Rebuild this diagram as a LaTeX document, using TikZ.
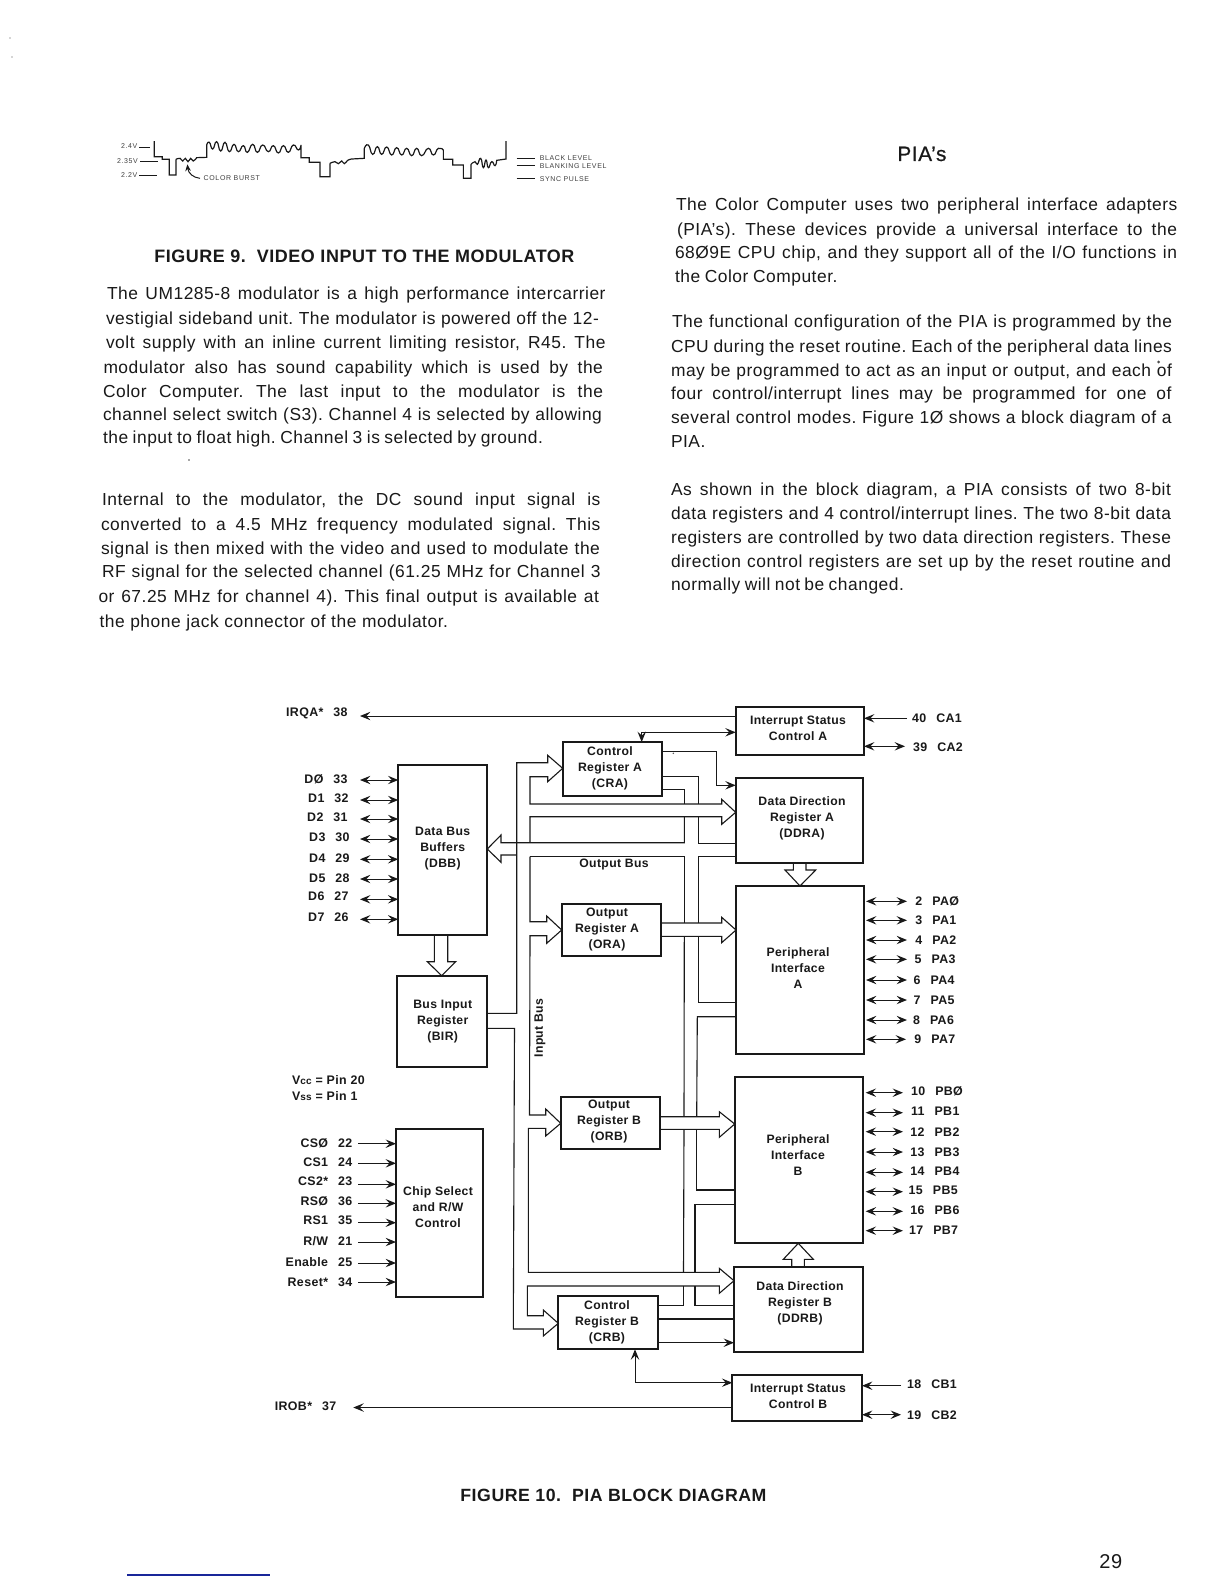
\documentclass[tikz,border=0pt]{standalone}
\usepackage{fontspec}
\usepackage{graphicx}
\setmainfont[LetterSpace=3]{Liberation Sans}
\usetikzlibrary{arrows.meta,calc}
\definecolor{ink}{gray}{0.1}
\definecolor{rulblue}{rgb}{0.1,0.15,0.6}
\newcommand\pgap{\hspace{5pt}}
\newcommand\slz{Ø}
\newcommand\rw{R/W}
\newcounter{tlc}
\frenchspacing
% one justified text line: x0, x1, baseline y, text
\newcommand\txtline[4]{%
  \stepcounter{tlc}%
  \pgfmathsetmacro\tw{(#2-#1)*0.5}%
  \node[bodyline] (line\thetlc) at (#1,#3) {\makebox[\tw pt][s]{#4}};}
% a block: name, l,t,r,b, text centre x,y, text
\newcommand\blk[8]{%
  \pgfmathsetmacro\bw{(#4-#2)*0.5}%
  \pgfmathsetmacro\bh{(#5-#3)*0.5}%
  \node[blockbox,minimum width=\bw pt,minimum height=\bh pt] (#1) at ({(#2+#4)/2},{(#3+#5)/2}) {};
  \node[blocktext] (#1t) at (#6,#7) {#8};}
\tikzset{
  >={Stealth[length=5.2pt,width=4.2pt,inset=2pt]},
  bodyline/.style={anchor=base west,inner sep=0pt,outer sep=0pt,text=ink,font=\fontsize{8.7}{10}\selectfont},
  blockbox/.style={draw=ink,line width=0.95pt,inner sep=0pt,outer sep=0pt},
  blocktext/.style={align=center,inner sep=0pt,text=ink,font=\fontsize{6.1}{8}\selectfont\bfseries},
  pinlbl/.style={inner sep=0pt,text=ink,font=\fontsize{6.2}{8}\selectfont\bfseries},
  bus/.style={draw=ink,line width=0.55pt,line join=miter},
  sig/.style={draw=ink,line width=0.5pt},
  wavelbl/.style={anchor=west,inner sep=0pt,text=black!75,font=\fontsize{3.5}{4}\selectfont\addfontfeature{LetterSpace=9}},
  headlbl/.style={anchor=base west,inner sep=0pt,text=ink},
  speck/.style={fill=black!70,draw=none},
}
\begin{document}
\begin{tikzpicture}[x=0.5pt,y=-0.5pt]
\useasboundingbox (0,0) rectangle (1224,1584);
\fill[white] (0,0) rectangle (1224,1584);

% ---------- waveform
\begin{scope}[shift={(100,125)},x=0.16667pt,y=-0.16667pt]
\draw[ink,line width=0.6pt] (163,48) -- (163,95) -- (187,95) -- (187,103) -- (208,103) -- (208,150) -- (228,150) -- (228,103)
  plot[smooth,tension=.9] coordinates {(228,103) (240,100) (248,108) (256,100) (264,110) (272,100) (280,108) (290,98)}
  -- (320,97) -- (320,60)
  plot[smooth,tension=1] coordinates {(320,60) (328,52) (338,72) (350,50) (362,78) (375,52) (388,80) (402,58) (415,80) (430,62) (442,82) (458,58) (472,82) (488,60) (505,80) (520,62) (535,84) (550,62) (565,82) (580,60) (595,75) (603,60)}
  -- (603,98) -- (628,98) -- (628,112) -- (660,112) -- (660,155) -- (690,155) -- (690,115)
  plot[smooth,tension=.9] coordinates {(690,115) (705,110) (715,116) (725,108) (733,116) (743,106) (755,102)}
  -- (793,100) -- (793,70)
  plot[smooth,tension=1] coordinates {(793,70) (805,60) (818,88) (832,65) (845,88) (860,66) (875,90) (890,68) (905,90) (920,70) (935,92) (950,70) (965,92) (985,70) (1000,90) (1015,70) (1030,75)}
  -- (1030,103) -- (1058,103) -- (1058,120) -- (1090,120) -- (1090,160) -- (1113,160) -- (1113,118)
  plot[smooth,tension=1] coordinates {(1113,118) (1125,110) (1132,118) (1142,100) (1150,128) (1158,105) (1165,128) (1175,110) (1185,122) (1190,106)}
  -- (1218,102) -- (1218,48);
\draw[ink,line width=0.5pt] (118,66) -- (150,66);
\draw[ink,line width=0.5pt] (120,108) -- (175,108);
\draw[ink,line width=0.5pt] (118,150) -- (172,150);
\draw[ink,line width=0.5pt] (1250,100) -- (1305,100);
\draw[ink,line width=0.5pt] (1250,121) -- (1305,121);
\draw[ink,line width=0.5pt] (1250,160) -- (1305,160);
\node[wavelbl] (v24) at (62,64) {2.4V};
\node[wavelbl] (v235) at (50,107) {2.35V};
\node[wavelbl] (v22) at (62,150) {2.2V};
\node[wavelbl] (cburst) at (310,160) {COLOR BURST};
\node[wavelbl] (lblack) at (1318,98) {BLACK LEVEL};
\node[wavelbl] (lblank) at (1318,124) {BLANKING LEVEL};
\node[wavelbl] (lsync) at (1318,162) {SYNC PULSE};
\draw[ink,line width=0.5pt,-{Stealth[length=3.4pt,width=2.8pt]}] (cburst.west) ++(-10,0) .. controls (280,158) and (265,145) .. (262,118);
\end{scope}

% ---------- headings
\node[headlbl] (figa) at (154,262) {\resizebox{210pt}{!}{\bfseries FIGURE 9.\ \ VIDEO INPUT TO THE MODULATOR}};
\node[headlbl] (pias) at (897,161) {\resizebox{24.5pt}{!}{\addfontfeature{FakeBold=0.6}PIA's}};
\node[headlbl] (figb) at (460,1501) {\resizebox{153pt}{!}{\bfseries FIGURE 10.\ \ PIA BLOCK DIAGRAM}};
\node[headlbl,font=\fontsize{10}{12}\selectfont] (pageno) at (1099,1568) {29};
\draw[rulblue,line width=0.6pt] (127,1575) -- (270,1575);

% ---------- left column
\txtline{107}{605.6}{299}{The UM1285-8 modulator is a high performance intercarrier}
\txtline{106}{599}{324}{vestigial sideband unit. The modulator is powered off the 12-}
\txtline{106}{605.6}{348}{volt supply with an inline current limiting resistor, R45. The}
\txtline{103.5}{603}{373}{modulator also has sound capability which is used by the}
\txtline{103}{603}{397}{Color Computer. The last input to the modulator is the}
\txtline{103}{602}{420}{channel select switch (S3). Channel 4 is selected by allowing}
\txtline{103}{543}{443}{the input to float high. Channel 3 is selected by ground.}
\txtline{102}{600.5}{505}{Internal to the modulator, the DC sound input signal is}
\txtline{101}{600.5}{530}{converted to a 4.5 MHz frequency modulated signal. This}
\txtline{101}{600}{554}{signal is then mixed with the video and used to modulate the}
\txtline{102}{600.5}{577}{RF signal for the selected channel (61.25 MHz for Channel 3}
\txtline{98.5}{599}{602}{or 67.25 MHz for channel 4). This final output is available at}
\txtline{99.5}{448}{627}{the phone jack connector of the modulator.}

% ---------- right column
\txtline{676}{1177.5}{210}{The Color Computer uses two peripheral interface adapters}
\txtline{677}{1177}{235}{(PIA's). These devices provide a universal interface to the}
\txtline{675}{1177}{258}{68\slz9E CPU chip, and they support all of the I/O functions in}
\txtline{675}{837.5}{282}{the Color Computer.}
\txtline{672}{1172}{327}{The functional configuration of the PIA is programmed by the}
\txtline{671}{1172}{352}{CPU during the reset routine. Each of the peripheral data lines}
\txtline{671}{1172}{376}{may be programmed to act as an input or output, and each of}
\txtline{671}{1171.5}{399}{four control/interrupt lines may be programmed for one of}
\txtline{671}{1171.5}{423}{several control modes. Figure 1\slz{} shows a block diagram of a}
\txtline{671}{705}{447}{PIA.}
\txtline{671}{1171}{495}{As shown in the block diagram, a PIA consists of two 8-bit}
\txtline{671}{1171}{519}{data registers and 4 control/interrupt lines. The two 8-bit data}
\txtline{671}{1171}{543}{registers are controlled by two data direction registers. These}
\txtline{671}{1171}{567}{direction control registers are set up by the reset routine and}
\txtline{671}{904}{590}{normally will not be changed.}
\fill[speck] (1158.6,362) circle (1.6);
\fill[speck] (673.3,753.3) circle (0.8);
\fill[speck] (189,460) circle (0.8);
\fill[speck] (10,38) circle (0.7);
\fill[speck] (12,57) circle (0.7);

% ---------- blocks
\blk{dbb}{398.3}{765}{487.3}{935}{442.7}{848.7}{Data Bus\\Buffers\\(DBB)}
\blk{bir}{397.3}{975.7}{486.7}{1066.7}{442.7}{1021.7}{Bus Input\\Register\\(BIR)}
\blk{csr}{396}{1128.7}{483.3}{1297.3}{438}{1207}{Chip Select\\and R/W\\Control}
\blk{cra}{562.7}{742}{661.7}{795.7}{610}{768}{Control\\Register A\\(CRA)}
\blk{ora}{561.7}{903.7}{660.7}{955.7}{607}{929}{Output\\Register A\\(ORA)}
\blk{orb}{560.7}{1097.3}{660}{1149.3}{609}{1121.7}{Output\\Register B\\(ORB)}
\blk{crb}{558.3}{1296}{657.7}{1349.3}{607}{1322}{Control\\Register B\\(CRB)}
\blk{isca}{735.7}{707.3}{864}{755}{798}{728}{Interrupt Status\\Control A}
\blk{ddra}{735.7}{778.3}{863.3}{862.7}{802}{818}{Data Direction\\Register A\\(DDRA)}
\blk{pia}{736}{886}{864}{1054}{798}{968}{Peripheral\\Interface\\A}
\blk{pib}{734.7}{1077.3}{862.7}{1243.3}{798}{1154.7}{Peripheral\\Interface\\B}
\blk{ddrb}{734}{1267.3}{862.7}{1352}{800}{1303}{Data Direction\\Register B\\(DDRB)}
\blk{iscb}{732.3}{1375.3}{862}{1420.7}{798}{1396.7}{Interrupt Status\\Control B}

\node[blocktext] (outbus) at (614,864) {Output Bus};
\node[blocktext,rotate=90] (inbus) at (540,1028) {Input Bus};
\node[pinlbl,anchor=west] (vcc) at (291.7,1080) {V{\fontsize{5}{6}\selectfont cc} = Pin 20};
\node[pinlbl,anchor=west] (vss) at (291.7,1096) {V{\fontsize{5}{6}\selectfont ss} = Pin 1};

% ---------- input bus outline
\draw[bus] (bir.east |- 0,1013.3) -- (516.7,1013.3) -- (516.7,762.7) -- (547.7,762.7) -- (547.7,755.3)
  -- (cra.west |- 0,768.3) -- (547.7,781.7) -- (547.7,776.7) -- (530,776.7) -- (530,804) -- (721.7,804) -- (721.7,799.3)
  -- (ddra.west |- 0,812.3) -- (721.7,824.3) -- (721.7,816.7) -- (530,816.7) -- (530,842.7);
\draw[bus] (530,856.7) -- (530,921.7) -- (546.7,921.7) -- (546.7,916) -- (ora.west |- 0,930) -- (546.7,943.3) -- (546.7,935.7)
  -- (530,935.7) -- (529.5,1115) -- (545.7,1115) -- (545.7,1109) -- (orb.west |- 0,1123.3) -- (545.7,1136) -- (545.7,1128.3)
  -- (528.3,1128.3) -- (528.3,1272.3) -- (719.3,1272.3) -- (719.3,1268.3) -- (ddrb.west |- 0,1280.7) -- (719.3,1293.3)
  -- (719.3,1286) -- (527.3,1286) -- (527.3,1315.7) -- (543.3,1315.7) -- (543.3,1310) -- (crb.west |- 0,1323.3)
  -- (543.3,1336) -- (543.3,1329) -- (513.3,1329) -- (514.5,1028.3) -- (bir.east |- 0,1028.3);

% ---------- output bus outline
\draw[bus] (cra.east |- 0,789.3) -- (684.3,789.3) -- (684.3,804);
\draw[bus] (684.3,816.7) -- (684.3,842.7) -- (501,842.7) -- (501,835) -- (dbb.east |- 0,849) -- (501,862.3) -- (501,855) -- (516.7,855);
\draw[bus] (530,856.7) -- (684.3,856.7) -- (684.3,923);
\draw[bus] (684.3,936.3) -- (684,1116.7);
\draw[bus] (684,1129.3) -- (683.5,1272.3);
\draw[bus] (683.5,1286) -- (683.5,1305.7) -- (crb.east |- 0,1305.7);
\draw[bus] (cra.east |- 0,776.7) -- (698.3,776.7) -- (698.3,804);
\draw[bus] (698.3,816.7) -- (698.3,843.3) -- (ddra.west |- 0,843.3);
\draw[bus] (ddra.west |- 0,856.7) -- (698.3,856.7) -- (698.3,923);
\draw[bus] (698.3,936.3) -- (698.3,1002.7) -- (pia.west |- 0,1002.7);
\draw[bus] (pia.west |- 0,1016.7) -- (697.3,1016.7) -- (696.7,1116.7);
\draw[bus] (696.7,1129.3) -- (696.7,1190) -- (pib.west |- 0,1190);
\draw[bus] (pib.west |- 0,1204.3) -- (695,1204.3) -- (695,1272.3);
\draw[bus] (695,1286) -- (695,1305.7) -- (ddrb.west |- 0,1305.7);
\draw[bus] (crb.east |- 0,1319) -- (ddrb.west |- 0,1319);

% ---------- register to interface arrows
\draw[bus] (ora.east |- 0,923) -- (721.7,923) -- (721.7,917.3) -- (pia.west |- 0,930) -- (721.7,942.7) -- (721.7,936.3) -- (ora.east |- 0,936.3);
\draw[bus] (orb.east |- 0,1116.7) -- (719.3,1116.7) -- (719.3,1111.7) -- (pib.west |- 0,1124) -- (719.3,1137.3) -- (719.3,1129.3) -- (orb.east |- 0,1129.3);
\draw[bus] (ddra.south -| 793.3,0) -- (793.3,870) -- (785,870) -- (pia.north -| 800,0) -- (815.7,870) -- (806,870) -- (ddra.south -| 806,0);
\draw[bus] (dbb.south -| 434.3,0) -- (434.3,961.7) -- (427.3,961.7) -- (bir.north -| 441.7,0) -- (455.7,961.7) -- (447.7,961.7) -- (dbb.south -| 447.7,0);
\draw[bus] (ddrb.north -| 791.7,0) -- (791.7,1259.3) -- (783.3,1259.3) -- (pib.south -| 798.3,0) -- (813.3,1259.3) -- (804.3,1259.3) -- (ddrb.north -| 804.3,0);

% ---------- thin control lines
\draw[sig,<->] (cra.north -| 641.7,0) -- (641.7,732.3) -- (isca.west |- 0,732.3);
\draw[sig,->] (cra.east |- 0,751.7) -- (716,751.7) -- (716,785.3) -- (ddra.west |- 0,785.3);
\draw[sig,->] (crb.east |- 0,1342.7) -- (ddrb.west |- 0,1342.7);
\draw[sig,<->] (crb.south -| 635,0) -- (635,1382.7) -- (iscb.west |- 0,1382.7);

% ---------- pins, left
\foreach \nm/\txt/\tx/\ty/\ay in {
  33/D\slz\pgap 33/348/779.3/780, 32/D1\pgap 32/349/798.3/800, 31/D2\pgap 31/348/817/819, 30/D3\pgap 30/350/837.3/839,
  29/D4\pgap 29/350/858.3/859.3, 28/D5\pgap 28/350/878/879, 27/D6\pgap 27/349/896.7/899.3, 26/D7\pgap 26/349/917.3/919.3}{
  \node[pinlbl,anchor=east] (p\nm) at (\tx,\ty) {\txt};
  \coordinate (a\nm) at (360,\ay);
  \draw[sig,<->] (a\nm) -- (a\nm -| dbb.west);
}
\foreach \nm/\txt/\ty/\ay in {
  22/CS\slz\pgap 22/1143/1143.7, 24/CS1\pgap 24/1162.3/1163.3, 23/CS2*\pgap 23/1181.7/1184.3, 36/RS\slz\pgap 36/1201.7/1203.3,
  35/RS1\pgap 35/1220.7/1222.7, 21/\rw\pgap 21/1241/1242, 25/Enable\pgap 25/1262.3/1263, 34/Reset*\pgap 34/1282.3/1282}{
  \node[pinlbl,anchor=east] (p\nm) at (352.7,\ty) {\txt};
  \coordinate (a\nm) at (358.3,\ay);
  \draw[sig,->] (a\nm) -- (a\nm -| csr.west);
}
\node[pinlbl,anchor=east] (p38) at (348,713.3) {IRQA*\pgap 38};
\coordinate (a38) at (360,716);
\draw[sig,->] (isca.west |- a38) -- (a38);
\node[pinlbl,anchor=east] (p37) at (336.7,1406) {IROB*\pgap 37};
\coordinate (a37) at (353.3,1407.5);
\draw[sig,->] (iscb.west |- a37) -- (a37);

% ---------- pins, right
\foreach \nm/\txt/\tx/\ty/\ax in {
  2/2\pgap PA\slz/915/901.3/907, 3/3\pgap PA1/915/920.3/907, 4/4\pgap PA2/915/940/907, 5/5\pgap PA3/914.3/959.3/907,
  6/6\pgap PA4/913.3/980/907, 7/7\pgap PA5/913.3/1000/907, 8/8\pgap PA6/912.7/1020/907, 9/9\pgap PA7/914/1039.3/906}{
  \node[pinlbl,anchor=west] (p\nm) at (\tx,\ty) {\txt};
  \coordinate (a\nm) at (\ax,\ty);
  \draw[sig,<->] (pia.east |- a\nm) ++(2,0) -- (a\nm);
}
\foreach \nm/\txt/\tx/\ty/\ay in {
  10/10\pgap PB\slz/910.7/1091/1092.7, 11/11\pgap PB1/910.7/1111/1112.7, 12/12\pgap PB2/910/1132.3/1131.7, 13/13\pgap PB3/910/1152/1152,
  14/14\pgap PB4/910/1171.7/1172.3, 15/15\pgap PB5/908.3/1190/1191.7, 16/16\pgap PB6/910/1210.3/1211.3, 17/17\pgap PB7/908.7/1230.3/1230.7}{
  \node[pinlbl,anchor=west] (p\nm) at (\tx,\ty) {\txt};
  \coordinate (a\nm) at (903,\ay);
  \draw[sig,<->] (pib.east |- a\nm) ++(3,0) -- (a\nm);
}
\node[pinlbl,anchor=west] (p40) at (911.7,718.7) {40\pgap CA1};
\coordinate (a40) at (907,718.3);
\draw[sig,->] (a40) -- (a40 -| isca.east);
\node[pinlbl,anchor=west] (p39) at (912.7,747.3) {39\pgap CA2};
\coordinate (a39) at (905,746.3);
\draw[sig,<->] (isca.east |- a39) -- (a39);
\node[pinlbl,anchor=west] (p18) at (906.7,1384) {18\pgap CB1};
\coordinate (a18) at (901,1385.7);
\draw[sig,->] (a18) -- (a18 -| iscb.east);
\node[pinlbl,anchor=west] (p19) at (906.7,1415) {19\pgap CB2};
\coordinate (a19) at (901,1414.7);
\draw[sig,<->] (iscb.east |- a19) -- (a19);
\end{tikzpicture}
\end{document}
